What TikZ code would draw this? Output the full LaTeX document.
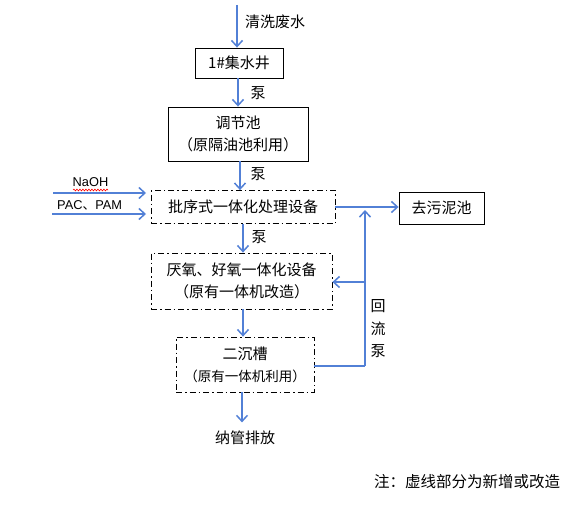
\documentclass[tikz,border=0pt]{standalone}
\usepackage{fontspec}
\setmainfont{Liberation Sans}
\newfontfamily\cjk{Noto Sans CJK SC}
\usetikzlibrary{arrows.meta,decorations.pathmorphing}
\definecolor{flow}{RGB}{82,128,214}
\tikzset{
  solidbox/.style={draw=black,line width=0.9pt,minimum width=#1,inner sep=0pt,align=center,font=\cjk\fontsize{15}{22}\selectfont},
  ddbox/.style={draw=black,line width=0.8pt,dash pattern=on 6pt off 3pt on 1.5pt off 3pt,minimum width=#1,inner sep=0pt,align=center,font=\cjk\fontsize{15}{22}\selectfont},
  flowline/.style={draw=flow,line width=1.5pt},
  flowarrow/.style={flowline,-{Straight Barb[length=6pt,width=11pt,line width=1.5pt]}},
  lbl/.style={font=\cjk\fontsize{15}{16}\selectfont,inner sep=0pt},
}
\begin{document}
\begin{tikzpicture}[x=1pt,y=-1pt]
\useasboundingbox (0,0) rectangle (574,511);
% boxes
\node[solidbox=88pt,minimum height=30pt] (b1) at (239,63) {1\#集水井};
\node[solidbox=140pt,minimum height=54pt] (b2) at (238,134) {调节池\\（原隔油池利用）};
\node[ddbox=184pt,minimum height=33pt] (b3) at (243,207) {批序式一体化处理设备};
\node[solidbox=85pt,minimum height=32pt] (b4) at (441.5,208) {去污泥池};
\node[ddbox=181pt,minimum height=56pt] (b5) at (241.5,281) {厌氧、好氧一体化设备\\（原有一体机改造）};
\node[ddbox=138pt,minimum height=55pt] (b6) at (245,364.5) {二沉槽\\{\fontsize{13.5}{14}\selectfont（原有一体机利用）}};
% texts
\node[lbl,anchor=west] (tin) at (245,22) {清洗废水};
\node[lbl] (tout) at (245,438) {纳管排放};
\node[lbl] (p1) at (258,93) {泵};
\node[lbl] (p2) at (258,174) {泵};
\node[lbl] (p3) at (259,237) {泵};
\node[lbl,align=center,font=\cjk\fontsize{15}{22.5}\selectfont] (rp) at (378,329) {回\\流\\泵};
\node[lbl,font=\cjk\fontsize{15.5}{16}\selectfont] (note) at (467,482) {注：虚线部分为新增或改造};
\node[inner sep=0pt,anchor=base,font=\fontsize{12.8}{14}\selectfont] (naoh) at (90.5,186.5) {NaOH};
\node[inner sep=0pt,anchor=base west,font=\fontsize{12.8}{14}\selectfont] (pac) at (57,209) {PAC{\cjk 、}PAM};
\coordinate (w1) at (73,190);
\coordinate (w2) at (108,190);
\draw[red,line width=0.6pt,decorate,decoration={snake,amplitude=0.9pt,segment length=3pt}] (w1) -- (w2);
% coordinates
\coordinate (src) at (237,5);
\coordinate (in1) at (53,193);
\coordinate (in2) at (52,214);
\coordinate (in1e) at (146,193);
\coordinate (in2e) at (146,214);
\coordinate (rb) at (365,366);
\coordinate (rt) at (365,210);
\coordinate (rm) at (365,282);
% connectors
\draw[flowarrow] (src) -- (src |- b1.north);
\draw[flowarrow] ([xshift=-1pt]b1.south) -- ([xshift=-1pt]b1.south |- b2.north);
\draw[flowarrow] ([xshift=2pt]b2.south) -- ([xshift=2pt]b2.south |- b3.north);
\draw[flowarrow] (in1) -- (in1e);
\draw[flowarrow] (in2) -- (in2e);
\draw[flowarrow] (b3.east) -- (b4.west |- b3.east);
\draw[flowarrow] (b3.south) -- (b3.south |- b5.north);
\draw[flowarrow] ([xshift=1.5pt]b5.south) -- ([xshift=1.5pt]b5.south |- b6.north);
\draw[flowarrow] ([xshift=-3pt]b6.south) -- ++(0,30);
\draw[flowline] (b6.east |- rb) -- (rb);
\draw[flowarrow] (rb) -- (rt);
\draw[flowarrow] (rm) -- (b5.east |- rm);
\end{tikzpicture}
\end{document}
